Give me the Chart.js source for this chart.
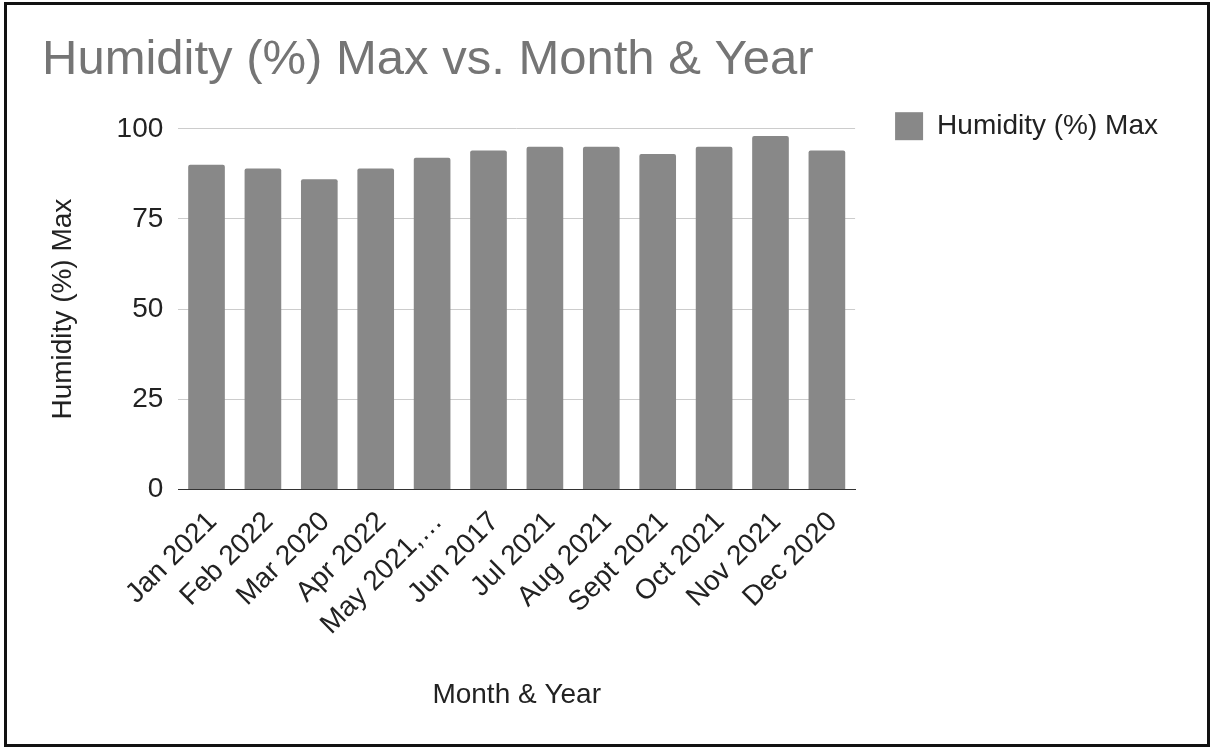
<!DOCTYPE html>
<html>
<head>
<meta charset="utf-8">
<script src="https://cdn.jsdelivr.net/npm/chart.js@4"></script>
<style>
  html, body { margin: 0; padding: 0; background: #fff; }
  #frame {
    position: absolute; left: 4px; top: 2px;
    width: 1206px; height: 745px;
    box-sizing: border-box; border: 3px solid #111;
  }
  #wrap { position: absolute; left: 0; top: 0; right: 0; bottom: 0; }
</style>
</head>
<body>
<div id="frame"><div id="wrap"><canvas id="myChart"></canvas></div></div>
<script>
// categories and values
var months = ['Jan 2021', 'Feb 2022', 'Mar 2020', 'Apr 2022', 'May 2021,\u2026', 'Jun 2017',
              'Jul 2021', 'Aug 2021', 'Sept 2021', 'Oct 2021', 'Nov 2021', 'Dec 2020'];
var humidityMax = [90, 89, 86, 89, 92, 94, 95, 95, 93, 95, 98, 94];
var yTicks = [0, 25, 50, 75, 100];

var font = 'Arial, "Liberation Sans", sans-serif';

var ctx = document.getElementById('myChart').getContext('2d');
var chart = new Chart(ctx, {
    type: 'bar',
    data: {
        labels: months,
        datasets: [{
            label: 'Humidity (%) Max',
            backgroundColor: '#888888',
            borderRadius: 2,
            borderSkipped: 'bottom',
            barPercentage: 0.65,
            categoryPercentage: 1,
            data: humidityMax
        }]
    },
    options: {
        responsive: true,
        maintainAspectRatio: false,
        animation: false,
        layout: { padding: { left: 35, right: 39, top: 0, bottom: 28 } },
        plugins: {
            title: {
                display: true,
                text: 'Humidity (%) Max vs. Month & Year',
                align: 'start',
                color: '#757575',
                font: { family: font, size: 49, weight: 'normal' },
                padding: { top: 26, bottom: 39 }
            },
            legend: {
                position: 'right',
                align: 'start',
                maxWidth: 400,
                // empty legend title just pushes the item down to the 100 line
                title: { display: true, text: ' ', font: { size: 1 }, padding: { top: 66, bottom: 0 } },
                labels: {
                    boxWidth: 28,
                    boxHeight: 28,
                    padding: 40,
                    color: '#222',
                    font: { family: font, size: 28 }
                }
            },
            tooltip: { enabled: false }
        },
        scales: {
            x: {
                grid: { display: false },
                border: { color: '#333', width: 1 },
                ticks: {
                    color: '#222',
                    font: { family: font, size: 28 },
                    maxRotation: 45,
                    minRotation: 45,
                    autoSkip: false,
                    padding: 8,
                    labelOffset: 6
                },
                title: {
                    display: true,
                    text: 'Month & Year',
                    color: '#222',
                    font: { family: font, size: 28 },
                    padding: { top: 29 }
                }
            },
            y: {
                min: 0,
                max: 100,
                afterBuildTicks: function (axis) {
                    axis.ticks = yTicks.map(function (v) { return { value: v }; });
                },
                border: { display: false },
                grid: {
                    drawTicks: false,
                    color: function (c) { return c.tick && c.tick.value === 0 ? '#333' : '#cccccc'; }
                },
                ticks: {
                    color: '#222',
                    padding: 15,
                    font: { family: font, size: 28 }
                },
                title: {
                    display: true,
                    text: 'Humidity (%) Max',
                    color: '#222',
                    font: { family: font, size: 28 },
                    padding: { bottom: 22 }
                }
            }
        }
    }
});
</script>
</body>
</html>
